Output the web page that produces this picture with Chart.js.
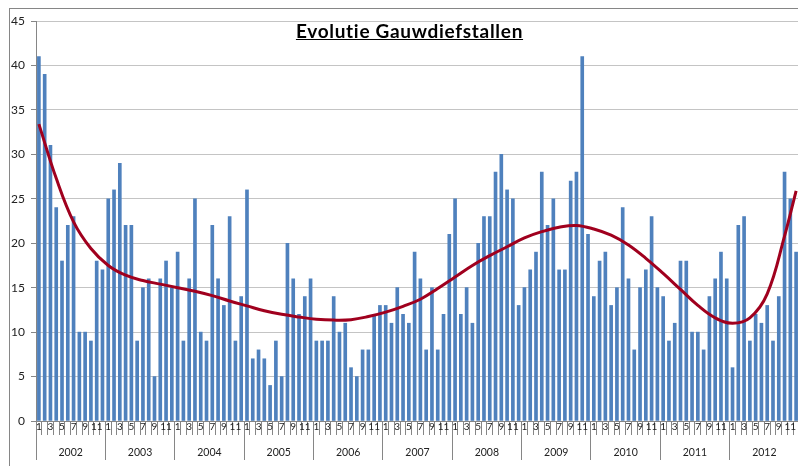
<!DOCTYPE html>
<html>
<head>
<meta charset="utf-8">
<script src="https://cdn.jsdelivr.net/npm/chart.js@4/dist/chart.umd.min.js"></script>
<style>
  html, body { margin: 0; padding: 0; background: #fff; overflow: hidden; }
  #frame { position: absolute; left: 9px; top: 8px; width: 900px; height: 600px;
           border-left: 1px solid #868686; border-top: 1px solid #868686; }
  #wrap { position: absolute; left: 0; top: 0; width: 800px; height: 466px; }
  #title { position: absolute; left: 0; width: 819px; top: 21px; text-align: center;
           font: bold 19px Lato, sans-serif; letter-spacing: 0.7px; line-height: 20px;
           text-decoration: underline; color: #000; pointer-events: none; }
</style>
</head>
<body>
<div id="frame"></div>
<div id="wrap"><canvas id="chart" width="800" height="466"></canvas></div>
<div id="title">Evolutie Gauwdiefstallen</div>
<script>
const years = ['2002', '2003', '2004', '2005', '2006', '2007', '2008', '2009', '2010', '2011', '2012'];
const months = ['1', '2', '3', '4', '5', '6', '7', '8', '9', '10', '11', '12'];

// monthly counts, Jan 2002 .. Dec 2012
const thefts = [
  41, 39, 31, 24, 18, 22, 23, 10, 10, 9, 18, 17,   // 2002
  25, 26, 29, 22, 22, 9, 15, 16, 5, 16, 18, 15,    // 2003
  19, 9, 16, 25, 10, 9, 22, 16, 13, 23, 9, 14,     // 2004
  26, 7, 8, 7, 4, 9, 5, 20, 16, 12, 14, 16,        // 2005
  9, 9, 9, 14, 10, 11, 6, 5, 8, 8, 12, 13,         // 2006
  13, 11, 15, 12, 11, 19, 16, 8, 15, 8, 12, 21,    // 2007
  25, 12, 15, 11, 20, 23, 23, 28, 30, 26, 25, 13,  // 2008
  15, 17, 19, 28, 22, 25, 17, 17, 27, 28, 41, 21,  // 2009
  14, 18, 19, 13, 15, 24, 16, 8, 15, 17, 23, 15,   // 2010
  14, 9, 11, 18, 18, 10, 10, 8, 14, 16, 19, 16,    // 2011
  6, 22, 23, 9, 12, 11, 13, 9, 14, 28, 25, 19      // 2012
];

// trend curve, every 3rd month (month index -> value)
const trendMonth = [0, 3, 6, 9, 12, 15, 18, 21, 24, 27, 30, 33, 36, 39, 42, 45, 48, 51, 54, 57, 60, 63, 66, 69, 72, 75, 78, 81, 84, 87, 90, 93, 96, 99, 102, 105, 108, 111, 114, 117, 120, 123, 126, 129, 131];
const trendValue = [33.4, 27.3, 22.4, 19.4, 17.5, 16.4, 15.8, 15.4, 15.0, 14.6, 14.1, 13.5, 12.95, 12.4, 12.0, 11.7, 11.45, 11.35, 11.4, 11.75, 12.25, 12.9, 13.7, 14.9, 16.2, 17.5, 18.6, 19.6, 20.6, 21.3, 21.8, 22.0, 21.6, 20.9, 19.8, 18.3, 16.6, 14.8, 13.0, 11.6, 11.0, 11.6, 14.3, 20.8, 25.9];

const labels = years.flatMap(() => months);
const trend = labels.map(() => null);
trendMonth.forEach((m, i) => { trend[m] = trendValue[i]; });

const axisGray = '#868686';

new Chart(document.getElementById('chart'), {
  data: {
    labels: labels,
    datasets: [{
      type: 'line',
      data: trend,
      borderColor: '#a0001e',
      borderWidth: 3,
      pointRadius: 0,
      spanGaps: true,
      tension: 0.4,
      order: 0
    }, {
      type: 'bar',
      data: thefts,
      backgroundColor: '#4f81bd',
      barThickness: 3,
      order: 1
    }]
  },
  options: {
    responsive: false,
    animation: false,
    layout: { padding: { top: 21, right: 1, bottom: 0, left: 0 } },
    scales: {
      y: {
        min: 0,
        max: 45,
        ticks: { stepSize: 5, padding: 6, color: '#222', font: { family: 'Lato', size: 12 } },
        grid: { color: '#c4c4c4', tickLength: 5, tickColor: axisGray },
        border: { display: true, color: axisGray },
        afterFit: (scale) => { scale.width = 36; }
      },
      x: {
        offset: true,
        grid: { offset: true, drawOnChartArea: false, tickLength: 14, tickColor: axisGray },
        border: { display: true, color: axisGray },
        ticks: {
          autoSkip: false, maxRotation: 0, minRotation: 0, padding: -14,
          color: '#222', font: { family: 'Lato', size: 10 },
          callback: function (value, index) { return index % 2 === 0 ? this.getLabelForValue(value) : ''; }
        },
        afterFit: (scale) => { scale.height = 14; }
      },
      years: {
        type: 'category',
        labels: years,
        position: 'bottom',
        offset: true,
        grid: { offset: true, drawOnChartArea: false, tickLength: 25, tickColor: axisGray },
        border: { display: false },
        ticks: { autoSkip: false, maxRotation: 0, padding: -14, color: '#222', font: { family: 'Lato', size: 10.5 } },
        afterFit: (scale) => { scale.height = 31; }
      }
    },
    plugins: {
      legend: { display: false },
      tooltip: { enabled: false }
    }
  }
});
</script>
</body>
</html>
